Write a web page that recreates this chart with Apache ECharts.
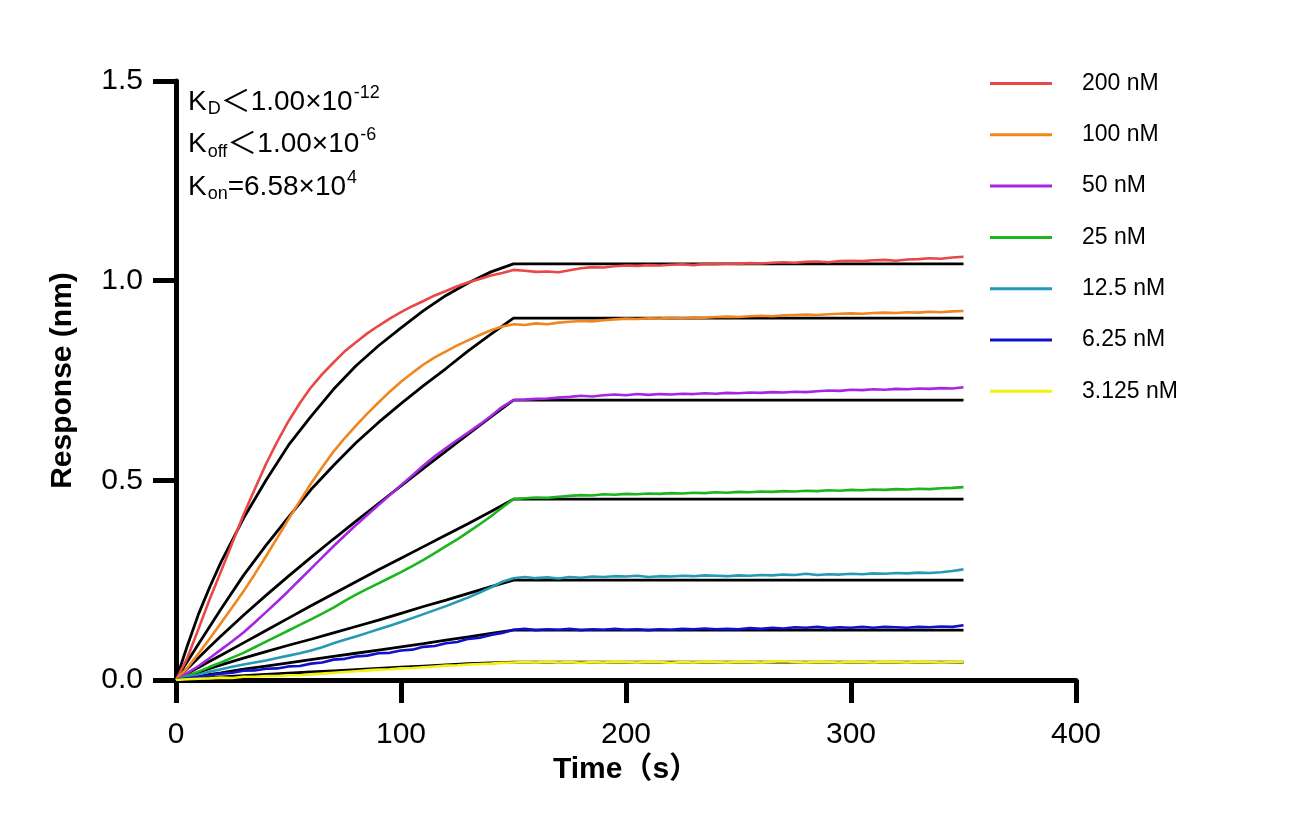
<!DOCTYPE html>
<html>
<head>
<meta charset="utf-8">
<script src="https://cdn.jsdelivr.net/npm/echarts@6/dist/echarts.min.js"></script>
<style>
html,body{margin:0;padding:0;background:#fff;}
#chart{width:1291px;height:834px;}
</style>
</head>
<body>
<div id="chart"></div>
<script>
// time grid (s) of the measured curves
const time = [0,5,10,15,20,25,30,35,40,45,50,55,60,65,70,75,80,85,90,95,100,105,110,115,120,125,130,135,140,145,150,
  155,160,165,170,175,180,185,190,195,200,205,210,215,220,225,230,235,240,245,250,255,260,265,270,275,280,285,290,295,300,
  305,310,315,320,325,330,335,340,345,350];
// time grid (s) of the fitted curves
const fitTime = [0,5,10,15,20,30,40,50,60,70,80,90,100,110,120,130,140,150,350];

const seriesNames = ['200 nM','100 nM','50 nM','25 nM','12.5 nM','6.25 nM','3.125 nM'];
const seriesColors = ['#E84848','#F0861E','#A626E6','#1DB51D','#2599B5','#1010CC','#F2F20A'];

// measured responses (nm)
const r200 = [0,0.055,0.128,0.203,0.272,0.343,0.414,0.478,0.541,0.597,0.648,0.693,0.733,0.766,0.795,0.823,0.846,0.868,0.887,0.905,0.921,0.936,0.949,0.963,0.974,0.986,0.996,1.004,1.013,1.019,1.027,
  1.025,1.022,1.023,1.021,1.026,1.031,1.034,1.033,1.036,1.038,1.037,1.039,1.038,1.040,1.041,1.039,1.042,1.041,1.043,1.042,1.044,1.043,1.045,1.046,1.045,1.047,1.048,1.046,1.049,1.050,1.049,1.051,1.052,1.050,1.053,1.054,1.056,1.055,1.058,1.060];
const r100 = [0,0.030,0.066,0.104,0.143,0.182,0.222,0.265,0.310,0.356,0.403,0.448,0.492,0.533,0.572,0.606,0.637,0.667,0.695,0.722,0.747,0.769,0.790,0.808,0.823,0.838,0.851,0.864,0.876,0.885,0.891,
  0.889,0.893,0.891,0.895,0.897,0.899,0.898,0.901,0.903,0.905,0.904,0.906,0.905,0.907,0.906,0.908,0.907,0.909,0.910,0.909,0.911,0.912,0.911,0.913,0.914,0.915,0.914,0.916,0.917,0.918,0.917,0.919,0.920,0.919,0.921,0.920,0.922,0.921,0.923,0.924];
const r50 = [0,0.017,0.035,0.055,0.076,0.097,0.119,0.144,0.170,0.196,0.223,0.251,0.279,0.307,0.335,0.362,0.388,0.413,0.438,0.463,0.488,0.512,0.537,0.560,0.581,0.601,0.620,0.640,0.661,0.684,0.701,
  0.702,0.704,0.705,0.707,0.709,0.712,0.710,0.713,0.715,0.713,0.716,0.714,0.716,0.715,0.717,0.716,0.718,0.717,0.719,0.718,0.720,0.719,0.721,0.720,0.722,0.721,0.723,0.725,0.724,0.727,0.726,0.728,0.727,0.729,0.728,0.730,0.729,0.731,0.730,0.733];
const r25 = [0,0.010,0.021,0.033,0.044,0.056,0.068,0.082,0.096,0.110,0.124,0.138,0.152,0.166,0.181,0.198,0.214,0.228,0.242,0.256,0.270,0.285,0.301,0.318,0.335,0.352,0.371,0.390,0.410,0.432,0.453,
  0.455,0.457,0.456,0.459,0.461,0.463,0.462,0.465,0.464,0.466,0.465,0.467,0.466,0.468,0.467,0.469,0.468,0.470,0.469,0.471,0.470,0.472,0.471,0.473,0.472,0.474,0.473,0.475,0.474,0.476,0.475,0.477,0.476,0.478,0.477,0.479,0.478,0.480,0.481,0.483];
const r12 = [0,0.006,0.013,0.021,0.027,0.033,0.039,0.044,0.049,0.055,0.061,0.067,0.074,0.082,0.092,0.101,0.109,0.118,0.127,0.136,0.145,0.155,0.165,0.175,0.185,0.196,0.207,0.219,0.232,0.246,0.255,
  0.258,0.255,0.257,0.254,0.258,0.256,0.259,0.258,0.260,0.259,0.261,0.258,0.260,0.259,0.261,0.260,0.262,0.261,0.260,0.262,0.261,0.263,0.262,0.264,0.263,0.266,0.263,0.265,0.264,0.266,0.265,0.267,0.266,0.268,0.267,0.269,0.268,0.270,0.273,0.277];
const r6 = [0,0.004,0.008,0.012,0.016,0.018,0.023,0.024,0.028,0.029,0.034,0.035,0.041,0.044,0.051,0.053,0.059,0.061,0.067,0.068,0.074,0.076,0.083,0.085,0.092,0.095,0.103,0.106,0.113,0.118,0.126,
  0.128,0.125,0.127,0.126,0.128,0.125,0.127,0.126,0.128,0.126,0.127,0.125,0.127,0.126,0.128,0.127,0.129,0.127,0.128,0.127,0.130,0.128,0.131,0.129,0.132,0.131,0.133,0.130,0.132,0.131,0.133,0.131,0.133,0.132,0.131,0.133,0.132,0.134,0.133,0.137];
const r3 = [0,0.002,0.003,0.004,0.006,0.005,0.008,0.008,0.010,0.010,0.012,0.012,0.014,0.016,0.018,0.020,0.022,0.024,0.026,0.027,0.029,0.030,0.032,0.034,0.036,0.037,0.039,0.040,0.041,0.043,0.044,
  0.045,0.044,0.046,0.044,0.045,0.043,0.045,0.044,0.046,0.045,0.044,0.046,0.045,0.043,0.045,0.044,0.046,0.045,0.044,0.046,0.045,0.044,0.046,0.047,0.045,0.044,0.046,0.045,0.044,0.046,0.045,0.044,0.046,0.045,0.044,0.046,0.045,0.044,0.045,0.046];

// fitted curves (nm)
const f200 = [0,0.085,0.165,0.233,0.295,0.405,0.500,0.588,0.660,0.728,0.787,0.837,0.882,0.925,0.963,0.995,1.022,1.042,1.042];
const f100 = [0,0.046,0.090,0.134,0.178,0.262,0.337,0.408,0.477,0.537,0.594,0.645,0.692,0.737,0.780,0.825,0.866,0.906,0.906];
const f50  = [0,0.028,0.056,0.083,0.110,0.162,0.212,0.260,0.307,0.353,0.398,0.442,0.486,0.530,0.573,0.616,0.659,0.701,0.701];
const f25  = [0,0.016,0.031,0.047,0.062,0.093,0.124,0.155,0.186,0.216,0.246,0.276,0.305,0.334,0.363,0.392,0.422,0.453,0.453];
const f12  = [0,0.010,0.019,0.029,0.038,0.055,0.071,0.087,0.102,0.118,0.134,0.150,0.167,0.184,0.200,0.217,0.234,0.250,0.250];
const f6   = [0,0.005,0.009,0.014,0.018,0.027,0.035,0.043,0.051,0.059,0.067,0.075,0.083,0.091,0.100,0.108,0.117,0.125,0.125];
const f3   = [0,0.002,0.004,0.006,0.008,0.011,0.014,0.017,0.020,0.023,0.026,0.029,0.032,0.035,0.038,0.041,0.043,0.045,0.045];

const xTicks = [0,100,200,300,400];
const yTicks = [0,0.5,1.0,1.5];

const measured = [r200,r100,r50,r25,r12,r6,r3];
const fitted = [f200,f100,f50,f25,f12,f6,f3];

const FONT = 'Arial, "Liberation Sans", "Noto Sans CJK SC", sans-serif';

const series = [];
fitted.forEach((arr,i)=>{
  series.push({
    name: 'fit ' + seriesNames[i], type:'line', showSymbol:false, smooth:false, z:2,
    data: fitTime.map((t,k)=>[t,arr[k]]),
    lineStyle:{color:'#000', width:2.8}, itemStyle:{color:'#000'}, silent:true
  });
});
measured.forEach((arr,i)=>{
  series.push({
    name: seriesNames[i], type:'line', showSymbol:false, smooth:false, z:3,
    data: time.map((t,k)=>[t,arr[k]]),
    lineStyle:{color:seriesColors[i], width:2.6}, itemStyle:{color:seriesColors[i]}
  });
});

const chart = echarts.init(document.getElementById('chart'), null, {renderer:'canvas'});
chart.setOption({
  backgroundColor:'#fff',
  animation:false,
  grid:{left:176, right:215, top:81, bottom:154, containLabel:false},
  xAxis:{
    type:'value', min:xTicks[0], max:xTicks[xTicks.length-1], interval:100,
    name:'Time（s）', nameLocation:'middle', nameGap:70,
    nameTextStyle:{fontSize:30, fontWeight:'bold', color:'#000', fontFamily:FONT},
    axisLine:{show:true, lineStyle:{color:'#000', width:5}},
    axisTick:{show:true, length:23, lineStyle:{color:'#000', width:5}},
    axisLabel:{fontSize:30, color:'#000', margin:40, fontFamily:FONT},
    splitLine:{show:false}
  },
  yAxis:{
    type:'value', min:yTicks[0], max:yTicks[yTicks.length-1], interval:0.5,
    name:'Response (nm)', nameLocation:'middle', nameGap:98, nameRotate:90,
    nameTextStyle:{fontSize:30, fontWeight:'bold', color:'#000', fontFamily:FONT},
    axisLine:{show:true, lineStyle:{color:'#000', width:5}},
    axisTick:{show:true, length:23, lineStyle:{color:'#000', width:5}},
    axisLabel:{fontSize:30, color:'#000', margin:33, fontFamily:FONT, formatter:v=>v.toFixed(1)},
    splitLine:{show:false}
  },
  legend:{
    data: seriesNames, orient:'vertical', left:985, top:67, itemGap:28.3,
    icon:'rect', itemWidth:62, itemHeight:3,
    textStyle:{fontSize:23, color:'#000', fontFamily:FONT, lineHeight:22, padding:[0,0,0,25]}
  },
  graphic:[{
    type:'text', left:188, top:81, z:10,
    style:{
      text:'{m|K}{sub|D}{lt|＜}{m|1.00×10}{sup|-12}\n{m|K}{sub|off}{lt|＜}{m|1.00×10}{sup|-6}\n{m|K}{sub|on}{m|=6.58×10}{sup|4}',
      fill:'#000',
      rich:{
        m:{fontSize:28, fontFamily:FONT, fill:'#000', lineHeight:42.5, verticalAlign:'middle'},
        lt:{fontSize:30, fontFamily:FONT, fill:'#000', lineHeight:42.5, verticalAlign:'middle'},
        sub:{fontSize:18, fontFamily:FONT, fill:'#000', lineHeight:18, verticalAlign:'bottom', padding:[0,0,5,1]},
        sup:{fontSize:18, fontFamily:FONT, fill:'#000', lineHeight:18, verticalAlign:'top', padding:[3,0,0,1]}
      }
    }
  }],
  series: series
});
</script>
</body>
</html>
